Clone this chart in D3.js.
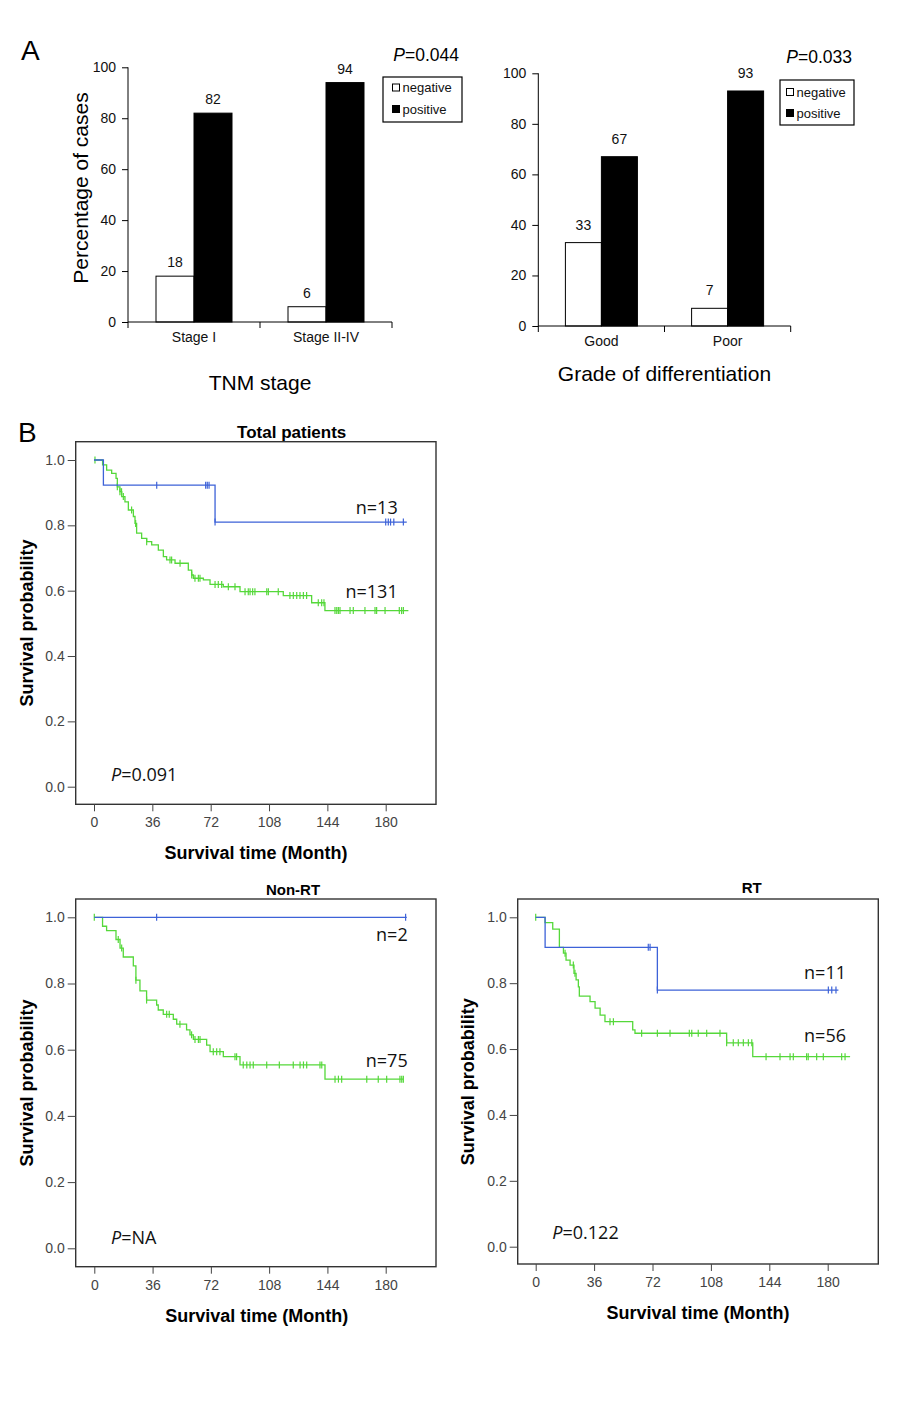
<!DOCTYPE html>
<html><head><meta charset="utf-8">
<script src="https://cdn.jsdelivr.net/npm/d3@7"></script>
<style>body{margin:0;background:#fff}svg{display:block}</style>
</head><body>
<svg id="c" width="909" height="1414"></svg>
<script>
// ---------- DATA ----------
const stageCats = ["Stage I", "Stage II-IV"];
const stageNegative = [18, 6];
const stagePositive = [82, 94];
const gradeCats = ["Good", "Poor"];
const gradeNegative = [33, 7];
const gradePositive = [67, 93];
const barSeries = ["negative", "positive"];
const barTicks = [0, 20, 40, 60, 80, 100];

const kmXTicks = [0, 36, 72, 108, 144, 180];
const kmYTicks = [0, 0.2, 0.4, 0.6, 0.8, 1.0];

// Total patients
const totalNegSteps = [[5.8, 0.923], [74.7, 0.810]];
const totalNegEnd = 193;
const totalNegCensor = [38.7, 68.9, 69.9, 71, 74.7, 180, 181.6, 183, 185, 190.9];
const totalPosSteps = [[5.3,0.985],[7.8,0.969],[10.9,0.959],[13.6,0.944],[14.4,0.918],[16,0.903],[17.1,0.888],[19.1,0.872],[21.2,0.847],[24.3,0.827],[25.3,0.806],[26.3,0.776],[29.4,0.760],[32.5,0.750],[35.6,0.740],[39.7,0.724],[42.8,0.704],[44.8,0.694],[50,0.684],[58.2,0.663],[60.3,0.648],[61.3,0.638],[67.5,0.633],[71.6,0.619],[79.8,0.612],[90.1,0.597],[116.8,0.585],[134.3,0.563],[142.5,0.539]];
const totalPosEnd = 194;
const totalPosCensor = [0.6,14.4,16,17,18.1,23.2,25.7,32.5,46.9,47.9,53.1,60.3,62.3,64.4,65.4,74.7,76.7,78.8,82.9,87,93.2,95.2,96.3,97.9,99.3,106.6,107.6,113.7,120.9,123,125.1,127.1,129.2,131.2,138.4,140.5,141.9,148.7,149.8,150.8,151.8,158,160,167.2,173.4,174.4,179.6,188.4,189.8,190.9];

// Non-RT
const nonRtNegSteps = [];
const nonRtNegEnd = 193;
const nonRtNegCensor = [38.5, 192.3];
const nonRtPosSteps = [[5.1,0.973],[7.6,0.960],[13.4,0.933],[15.9,0.907],[17.9,0.880],[24.1,0.853],[25.7,0.810],[28.2,0.778],[32.3,0.750],[38.5,0.735],[39.5,0.720],[42.6,0.707],[48.8,0.692],[50.9,0.677],[57,0.660],[59.1,0.645],[61.2,0.631],[69.4,0.614],[71.5,0.594],[79.7,0.579],[90,0.554],[142.5,0.511]];
const nonRtPosEnd = 190.9;
const nonRtPosCensor = [0,14.8,16.9,25.7,32.3,44.7,46.3,52.9,60.1,62.2,64.3,65.3,73.5,75.6,77.6,86.9,87.9,92,94.2,96.2,98.2,106.5,114.3,122.9,127.1,129.2,131.2,139.4,140.5,148.7,150.8,152.8,168.3,175.4,180.6,188.8,189.9,190.9];

// RT
const rtNegSteps = [[5.8, 0.909], [75, 0.779]];
const rtNegEnd = 186.6;
const rtNegCensor = [69.4, 70.5, 75, 180.4, 182.5, 185.1];
const rtPosSteps = [[5.75,0.984],[10.5,0.964],[14.6,0.909],[17.1,0.891],[18.7,0.870],[21.2,0.855],[23.6,0.830],[24.9,0.810],[26.3,0.789],[26.9,0.761],[33.5,0.744],[36.6,0.724],[39.7,0.703],[42.7,0.683],[59.8,0.658],[61.2,0.648],[117.7,0.619],[133.8,0.577]];
const rtPosEnd = 193.8;
const rtPosCensor = [0,18.1,23.2,24.2,45.8,47.9,65.3,75,82.8,94.7,96.2,100.2,105.4,113.6,117.7,121.8,124.9,128,131.1,133.2,142,150.6,156.8,158.8,167,168,173.2,177.3,188.6,190.7];

// ---------- DRAWING ----------
const svg = d3.select("#c");
const ARIAL = "'Liberation Sans', Arial, sans-serif";
const CAL = "'Open Sans', 'Noto Sans', sans-serif";
const GREEN = "#55d83a", BLUE = "#3d62d8";

function barChart(o) {
  const g = svg.append("g");
  const x = d3.scaleBand().domain(o.cats).range([o.x0, o.x1]);
  const po = (x.bandwidth() - 2 * o.barW) / (2 * o.barW);
  const xs = d3.scaleBand().domain(barSeries).range([0, x.bandwidth()]).paddingInner(0).paddingOuter(po);
  const y = d3.scaleLinear().domain([0, 100]).range([o.yBase, o.yTop]);
  const rows = o.cats.map((c, i) => ({c, negative: o.neg[i], positive: o.pos[i]}));
  rows.forEach(r => {
    barSeries.forEach(s => {
      g.append("rect").attr("x", x(r.c) + xs(s)).attr("y", y(r[s]))
        .attr("width", xs.bandwidth()).attr("height", y(0) - y(r[s]))
        .attr("fill", s === "negative" ? "#fff" : "#000").attr("stroke", "#000").attr("stroke-width", 1);
      g.append("text").attr("x", x(r.c) + xs(s) + xs.bandwidth() / 2).attr("y", y(r[s]) - o.labOff)
        .attr("text-anchor", "middle").attr("font-family", ARIAL).attr("font-size", 14).attr("fill", "#111").text(r[s]);
    });
  });
  // y axis
  const ya = g.append("g").attr("transform", `translate(${o.x0},0)`)
    .call(d3.axisLeft(y).tickValues(barTicks).tickSize(6).tickPadding(6));
  ya.selectAll("text").attr("font-family", ARIAL).attr("font-size", 14).attr("fill", "#111");
  ya.select(".domain").attr("d", `M0,${y(100)}V${y(0)}`);
  // x axis
  const xa = g.append("g").attr("transform", `translate(0,${o.yBase})`)
    .call(d3.axisBottom(x).tickSize(0).tickPadding(10));
  xa.selectAll("text").attr("font-family", ARIAL).attr("font-size", 14).attr("fill", "#111");
  xa.select(".domain").attr("d", `M${o.x0},0H${o.x1}`);
  [o.x0, (o.x0 + o.x1) / 2, o.x1].forEach(px => g.append("line").attr("x1", px).attr("x2", px)
    .attr("y1", o.yBase).attr("y2", o.yBase + 6).attr("stroke", "#000"));
  // titles
  g.append("text").attr("x", (o.x0 + o.x1) / 2).attr("y", o.xTitleY).attr("text-anchor", "middle")
    .attr("dominant-baseline", "central").attr("font-family", ARIAL).attr("font-size", 21).text(o.xTitle);
  if (o.yTitle) g.append("text").attr("transform", `translate(${o.yTitleX},${o.yTitleY}) rotate(-90)`)
    .attr("text-anchor", "middle").attr("dominant-baseline", "central").attr("font-family", ARIAL).attr("font-size", 21).text(o.yTitle);
  const pt = g.append("text").attr("x", o.pX).attr("y", o.pY).attr("text-anchor", "end")
    .attr("dominant-baseline", "central").attr("font-family", ARIAL).attr("font-size", 17.5);
  pt.append("tspan").attr("font-style", "italic").text("P");
  pt.append("tspan").text("=" + o.p);
  // legend
  g.append("rect").attr("x", o.lg[0]).attr("y", o.lg[1]).attr("width", o.lg[2] - o.lg[0]).attr("height", o.lg[3] - o.lg[1])
    .attr("fill", "#fff").attr("stroke", "#000").attr("stroke-width", 1.2);
  barSeries.forEach((s, i) => {
    const cy = o.lgY[i];
    g.append("rect").attr("x", o.lgSq).attr("y", cy - 3.5).attr("width", 7).attr("height", 7)
      .attr("fill", s === "negative" ? "#fff" : "#000").attr("stroke", "#000").attr("stroke-width", 1);
    g.append("text").attr("x", o.lgSq + 10).attr("y", cy).attr("dominant-baseline", "central")
      .attr("font-family", ARIAL).attr("font-size", 13).attr("fill", "#111").text(s);
  });
}

barChart({cats: stageCats, neg: stageNegative, pos: stagePositive, x0: 128, x1: 392, yBase: 322, yTop: 67.3,
  barW: 38, labOff: 9, xTitle: "TNM stage", xTitleY: 382, yTitle: "Percentage of cases", yTitleX: 80, yTitleY: 188,
  p: "0.044", pX: 459, pY: 55, lg: [383, 77, 462, 122], lgSq: 392.5, lgY: [87.5, 109]});
barChart({cats: gradeCats, neg: gradeNegative, pos: gradePositive, x0: 538.3, x1: 790.7, yBase: 326, yTop: 73.3,
  barW: 36, labOff: 13, xTitle: "Grade of differentiation", xTitleY: 373,
  p: "0.033", pX: 852, pY: 57, lg: [780, 80, 854, 125], lgSq: 786.5, lgY: [92, 113]});

svg.append("text").attr("x", 21).attr("y", 60).attr("font-family", ARIAL).attr("font-size", 28).text("A");
svg.append("text").attr("x", 18).attr("y", 442).attr("font-family", ARIAL).attr("font-size", 28).text("B");

function survAt(steps, t) {
  let s = 1;
  steps.forEach(d => { if (d[0] <= t) s = d[1]; });
  return s;
}

function kmPlot(o) {
  const g = svg.append("g");
  const x = d3.scaleLinear().domain([0, 180]).range(o.xr);
  const y = d3.scaleLinear().domain([0, 1]).range(o.yr);
  const [l, t, r, b] = o.frame;
  g.append("rect").attr("x", l).attr("y", t).attr("width", r - l).attr("height", b - t)
    .attr("fill", "none").attr("stroke", "#333").attr("stroke-width", 1.4);
  // axes
  const ya = g.append("g").attr("transform", `translate(${l},0)`)
    .call(d3.axisLeft(y).tickValues(kmYTicks).tickFormat(d3.format(".1f")).tickSize(8).tickPadding(3));
  ya.select(".domain").remove();
  ya.selectAll("line").attr("stroke", "#444");
  ya.selectAll("text").attr("font-family", ARIAL).attr("font-size", 14).attr("fill", "#444");
  const xa = g.append("g").attr("transform", `translate(0,${b})`)
    .call(d3.axisBottom(x).tickValues(kmXTicks).tickSize(7).tickPadding(6));
  xa.select(".domain").remove();
  xa.selectAll("line").attr("stroke", "#444");
  xa.selectAll("text").attr("font-family", ARIAL).attr("font-size", 14).attr("fill", "#444");
  const line = d3.line().x(d => x(d[0])).y(d => y(d[1])).curve(d3.curveStepAfter);
  o.series.forEach(s => {
    const pts = [[0, 1], ...s.steps, [s.end, s.steps.length ? s.steps[s.steps.length - 1][1] : 1]];
    g.append("path").attr("d", line(pts)).attr("fill", "none").attr("stroke", s.color).attr("stroke-width", 1.3);
    s.censor.forEach(c => {
      const cx = x(c), cy = y(survAt(s.steps, c));
      g.append("line").attr("x1", cx).attr("x2", cx).attr("y1", cy - 3.5).attr("y2", cy + 3.5)
        .attr("stroke", s.color).attr("stroke-width", 1.2);
    });
  });
  g.append("text").attr("x", o.title[1]).attr("y", o.title[2]).attr("text-anchor", "middle").attr("dominant-baseline", "central")
    .attr("font-family", ARIAL).attr("font-weight", "bold").attr("font-size", o.title[3]).text(o.title[0]);
  o.nLabels.forEach(n => g.append("text").attr("x", n[1]).attr("y", n[2]).attr("text-anchor", "end")
    .attr("dominant-baseline", "central").attr("font-family", CAL).attr("font-size", 18).attr("fill", "#111").text(n[0]));
  const pt = g.append("text").attr("x", o.p[1]).attr("y", o.p[2]).attr("dominant-baseline", "central")
    .attr("font-family", CAL).attr("font-size", 18).attr("fill", "#111");
  pt.append("tspan").attr("font-style", "italic").text("P");
  pt.append("tspan").text("=" + o.p[0]);
  g.append("text").attr("x", o.xt[0]).attr("y", o.xt[1]).attr("text-anchor", "middle").attr("dominant-baseline", "central")
    .attr("font-family", ARIAL).attr("font-weight", "bold").attr("font-size", 18).text("Survival time (Month)");
  g.append("text").attr("transform", `translate(${o.yt[0]},${o.yt[1]}) rotate(-90)`).attr("text-anchor", "middle")
    .attr("dominant-baseline", "central").attr("font-family", ARIAL).attr("font-weight", "bold").attr("font-size", 18)
    .text("Survival probability");
}

kmPlot({frame: [75.7, 441.7, 436, 804.3], xr: [94, 385.7], yr: [786.7, 460],
  title: ["Total patients", 291.7, 432.7, 17],
  series: [{steps: totalPosSteps, end: totalPosEnd, censor: totalPosCensor, color: GREEN},
           {steps: totalNegSteps, end: totalNegEnd, censor: totalNegCensor, color: BLUE}],
  nLabels: [["n=13", 397.7, 506.7], ["n=131", 397.7, 591]], p: ["0.091", 111, 774],
  xt: [256, 853], yt: [26.7, 623]});
kmPlot({frame: [75.7, 899, 436, 1266.7], xr: [94.3, 385.7], yr: [1248.3, 917.3],
  title: ["Non-RT", 293, 889, 15],
  series: [{steps: nonRtPosSteps, end: nonRtPosEnd, censor: nonRtPosCensor, color: GREEN},
           {steps: nonRtNegSteps, end: nonRtNegEnd, censor: nonRtNegCensor, color: BLUE}],
  nLabels: [["n=2", 407.7, 934], ["n=75", 407.7, 1060]], p: ["NA", 111, 1236.7],
  xt: [256.7, 1315.7], yt: [27, 1083]});
kmPlot({frame: [517.7, 899, 878.3, 1264], xr: [535.7, 827.7], yr: [1246.7, 917.3],
  title: ["RT", 751.7, 887.3, 15],
  series: [{steps: rtPosSteps, end: rtPosEnd, censor: rtPosCensor, color: GREEN},
           {steps: rtNegSteps, end: rtNegEnd, censor: rtNegCensor, color: BLUE}],
  nLabels: [["n=11", 846, 972.3], ["n=56", 846, 1035]], p: ["0.122", 552.3, 1231.7],
  xt: [698, 1312.7], yt: [468.3, 1081.7]});
</script>
</body></html>
